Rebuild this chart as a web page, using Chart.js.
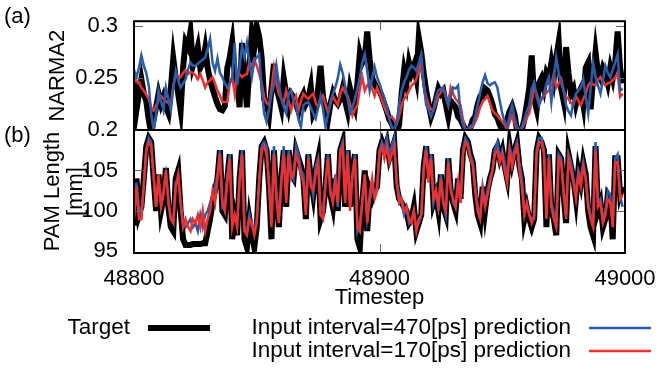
<!DOCTYPE html>
<html>
<head>
<meta charset="utf-8">
<script src="https://cdn.jsdelivr.net/npm/chart.js@4.4.1/dist/chart.umd.min.js"></script>
<style>
  body { margin: 0; background: #fff; }
  #wrap { position: relative; width: 663px; height: 369px; }
  #wrap canvas { position: absolute; left: 0; top: 0; }
</style>
</head>
<body>
<div id="wrap">
  <canvas id="narmaChart" width="663" height="369"></canvas>
  <canvas id="pamChart" width="663" height="369"></canvas>
</div>
<script>
const START = 48800;
const steps = Array.from({ length: 200 }, (_, i) => START + i);
const xTicks = [48800, 48900, 49000];
const narmaTicks = [0.2, 0.25, 0.3];
const pamTicks = [95, 100, 105];

// (a) NARMA2
const narmaTarget = [
  0.246, 0.219, 0.235, 0.249, 0.235, 0.228, 0.21, 0.197, 0.21, 0.222,
  0.235, 0.225, 0.232, 0.222, 0.216, 0.24, 0.269, 0.25, 0.235, 0.219,
  0.26, 0.285, 0.28, 0.295, 0.262, 0.27, 0.28, 0.26, 0.265, 0.279,
  0.26, 0.248, 0.24, 0.232, 0.225, 0.22, 0.219, 0.223, 0.26, 0.27,
  0.285, 0.255, 0.245, 0.222, 0.284, 0.25, 0.222, 0.26, 0.294, 0.28,
  0.3, 0.29, 0.27, 0.23, 0.225, 0.214, 0.24, 0.264, 0.24, 0.232,
  0.222, 0.25, 0.235, 0.222, 0.235, 0.232, 0.225, 0.218, 0.23, 0.235,
  0.225, 0.23, 0.242, 0.215, 0.22, 0.24, 0.262, 0.232, 0.22, 0.21,
  0.225, 0.235, 0.228, 0.225, 0.23, 0.24, 0.228, 0.218, 0.24, 0.23,
  0.222, 0.245, 0.274, 0.265, 0.27, 0.295, 0.268, 0.25, 0.245, 0.24,
  0.238, 0.232, 0.225, 0.218, 0.21, 0.206, 0.2, 0.197, 0.205, 0.235,
  0.257, 0.245, 0.265, 0.255, 0.262, 0.25, 0.289, 0.275, 0.255, 0.238,
  0.225, 0.213, 0.22, 0.23, 0.24, 0.235, 0.238, 0.225, 0.213, 0.228,
  0.225, 0.222, 0.213, 0.21, 0.205, 0.2, 0.2, 0.202, 0.21, 0.213,
  0.225, 0.232, 0.232, 0.24, 0.238, 0.232, 0.225, 0.215, 0.212, 0.205,
  0.2, 0.203, 0.21, 0.218, 0.223, 0.215, 0.2, 0.198, 0.2, 0.21,
  0.225, 0.24, 0.272, 0.23, 0.22, 0.245, 0.25, 0.24, 0.255, 0.25,
  0.265, 0.25, 0.27, 0.285, 0.24, 0.228, 0.28, 0.255, 0.235, 0.24,
  0.225, 0.235, 0.24, 0.225, 0.26, 0.265, 0.22, 0.25, 0.275, 0.255,
  0.25, 0.26, 0.255, 0.245, 0.26, 0.25, 0.265, 0.295, 0.26, 0.245
];
const narma470 = [
  0.258, 0.251, 0.26, 0.272, 0.262, 0.255, 0.243, 0.216, 0.2, 0.215,
  0.238, 0.228, 0.219, 0.241, 0.23, 0.219, 0.24, 0.257, 0.248, 0.241,
  0.245, 0.249, 0.258, 0.265, 0.262, 0.262, 0.264, 0.266, 0.268, 0.27,
  0.278, 0.288, 0.265, 0.257, 0.269, 0.255, 0.251, 0.245, 0.241, 0.245,
  0.251, 0.284, 0.243, 0.26, 0.281, 0.27, 0.284, 0.265, 0.251, 0.267,
  0.27, 0.273, 0.241, 0.216, 0.208, 0.22, 0.235, 0.243, 0.262, 0.245,
  0.23, 0.222, 0.216, 0.235, 0.238, 0.228, 0.224, 0.21, 0.203, 0.224,
  0.226, 0.227, 0.222, 0.216, 0.211, 0.222, 0.233, 0.22, 0.203, 0.215,
  0.227, 0.235, 0.241, 0.25, 0.263, 0.255, 0.243, 0.23, 0.216, 0.222,
  0.23, 0.24, 0.251, 0.265, 0.273, 0.257, 0.238, 0.25, 0.261, 0.251,
  0.245, 0.237, 0.23, 0.222, 0.21, 0.203, 0.2, 0.208, 0.224, 0.238,
  0.246, 0.251, 0.258, 0.262, 0.26, 0.257, 0.265, 0.273, 0.246, 0.224,
  0.22, 0.213, 0.22, 0.232, 0.238, 0.24, 0.241, 0.232, 0.224, 0.232,
  0.241, 0.24, 0.243, 0.216, 0.205, 0.2, 0.2, 0.204, 0.205, 0.214,
  0.224, 0.236, 0.246, 0.253, 0.245, 0.243, 0.245, 0.246, 0.241, 0.228,
  0.216, 0.208, 0.203, 0.214, 0.224, 0.212, 0.203, 0.2, 0.203, 0.21,
  0.218, 0.224, 0.24, 0.246, 0.232, 0.224, 0.23, 0.235, 0.245, 0.251,
  0.227, 0.25, 0.27, 0.255, 0.245, 0.238, 0.224, 0.218, 0.214, 0.228,
  0.235, 0.238, 0.241, 0.249, 0.232, 0.216, 0.24, 0.265, 0.251, 0.243,
  0.235, 0.248, 0.262, 0.255, 0.251, 0.258, 0.265, 0.273, 0.238, 0.24
];
const narma170 = [
  0.249, 0.247, 0.246, 0.241, 0.238, 0.234, 0.23, 0.222, 0.219, 0.224,
  0.228, 0.233, 0.23, 0.228, 0.226, 0.224, 0.243, 0.253, 0.252, 0.251,
  0.255, 0.258, 0.254, 0.256, 0.255, 0.253, 0.249, 0.254, 0.248, 0.241,
  0.246, 0.248, 0.251, 0.245, 0.238, 0.233, 0.227, 0.227, 0.227, 0.245,
  0.251, 0.235, 0.257, 0.254, 0.251, 0.253, 0.254, 0.265, 0.262, 0.268,
  0.262, 0.254, 0.245, 0.232, 0.226, 0.224, 0.24, 0.26, 0.245, 0.235,
  0.23, 0.227, 0.238, 0.228, 0.219, 0.228, 0.233, 0.219, 0.228, 0.235,
  0.232, 0.23, 0.233, 0.235, 0.226, 0.222, 0.228, 0.233, 0.225, 0.216,
  0.225, 0.233, 0.228, 0.224, 0.235, 0.241, 0.236, 0.233, 0.225, 0.214,
  0.22, 0.224, 0.24, 0.251, 0.238, 0.243, 0.246, 0.24, 0.233, 0.241,
  0.235, 0.229, 0.222, 0.216, 0.212, 0.213, 0.21, 0.206, 0.213, 0.224,
  0.23, 0.233, 0.238, 0.243, 0.245, 0.249, 0.258, 0.265, 0.243, 0.232,
  0.224, 0.22, 0.219, 0.226, 0.233, 0.236, 0.241, 0.232, 0.224, 0.241,
  0.235, 0.23, 0.227, 0.224, 0.21, 0.2, 0.201, 0.202, 0.203, 0.208,
  0.214, 0.222, 0.227, 0.23, 0.233, 0.226, 0.219, 0.216, 0.214, 0.211,
  0.208, 0.205, 0.2, 0.208, 0.214, 0.207, 0.2, 0.2, 0.201, 0.206,
  0.212, 0.216, 0.228, 0.241, 0.235, 0.227, 0.23, 0.233, 0.236, 0.238,
  0.244, 0.254, 0.241, 0.245, 0.249, 0.238, 0.232, 0.23, 0.226, 0.224,
  0.233, 0.228, 0.224, 0.23, 0.235, 0.243, 0.246, 0.244, 0.243, 0.248,
  0.251, 0.246, 0.243, 0.245, 0.246, 0.248, 0.251, 0.255, 0.232, 0.235
];

// (b) PAM length [mm]
const pamTarget = [
  98.2, 104, 99.5, 100.5, 104, 108, 109, 108.5, 104, 100,
  104.5, 100, 101.5, 105.3, 100.5, 98, 97.5, 104, 105, 100,
  96.5, 95.8, 95.8, 95.8, 95.9, 95.9, 95.9, 95.9, 96, 96,
  97.5, 99, 101, 102.5, 104, 107.5, 100, 99.5, 104, 107,
  96.5, 99, 97, 104, 107.5, 96.5, 95.5, 99, 97, 95.5,
  98, 104, 108, 108.5, 107.5, 103, 96.5, 107.5, 102, 98,
  104, 107.5, 100.5, 107.5, 104.5, 104, 107.5, 106.5, 105.5, 104,
  99, 107, 104, 102, 105, 106.5, 99, 100, 103, 107,
  102, 100.5, 104, 100, 107.5, 108.5, 100.5, 107.5, 100.5, 105,
  107, 96.5, 95.5, 101, 105, 97.5, 102.5, 101.5, 102.5, 103,
  107.5, 108.5, 107.5, 108.5, 106.5, 107.5, 108.5, 103, 101.5, 101,
  100.5, 100, 98.5, 99, 100.5, 97.5, 98.5, 99.5, 105.5, 108,
  104, 107, 101, 102, 100, 104.5, 100.5, 99.5, 106.5, 102.5,
  101, 100, 104, 101.5, 107.5, 109, 108.5, 107, 106, 102,
  99.5, 98.5, 103, 100, 102.5, 104, 105, 107.5, 108, 106.5,
  107.5, 105.5, 104, 108, 106, 107.5, 108.5, 105.5, 104, 99,
  100.5, 99, 98, 99, 107.5, 109, 108.5, 107.5, 98, 107,
  100, 99, 97, 107, 106.5, 102, 98.5, 107, 105.5, 104,
  101.5, 105, 103.5, 106, 104.5, 100, 98, 97, 108, 100,
  101, 98, 99, 102, 101.5, 96.5, 106.5, 106.5, 102, 103
];
const pam470 = [
  100, 103.5, 100.5, 99.5, 103, 107.5, 109, 108.5, 104, 100.5,
  104, 101, 102.5, 104.5, 101.5, 99, 98.5, 103.5, 104, 101,
  98.5, 98, 98.5, 99, 98, 98.5, 97.5, 99.5, 98, 99.5,
  100, 101, 102, 103, 104.5, 107.5, 100.5, 101, 104.5, 107,
  98.5, 99.5, 98.5, 104, 107.5, 98, 97.5, 99.5, 98, 97.5,
  99, 104, 108, 108.5, 108, 103.5, 98.5, 108, 102.5, 99,
  104, 108, 101.5, 107.5, 105, 104, 108, 107, 105, 104.5,
  100, 107, 104, 102, 105.5, 106.5, 100, 100.5, 103, 107,
  102, 101.5, 104.5, 100.5, 107.5, 108.5, 101.5, 107.5, 101, 104.5,
  107, 97.5, 98.5, 101, 104.5, 99, 101, 103, 102, 103,
  107.5, 108.5, 107.5, 109, 107, 108, 109, 103.5, 102, 101,
  99.5, 100.5, 98.5, 99, 100, 98, 98.5, 99.5, 105.5, 108,
  104, 107, 101, 102.5, 100, 104.5, 101, 99.5, 106.5, 103,
  101, 100.5, 104, 101, 107.5, 109, 108.5, 107, 106, 103,
  100.5, 99.5, 103, 101, 102.5, 104, 105, 107.5, 108.5, 106.5,
  107.5, 106, 104, 108, 106.5, 107.5, 108.5, 106, 104, 100,
  100.5, 99.5, 99, 99, 107.5, 109, 109, 107.5, 99.5, 107,
  101, 100, 98, 107, 106.5, 102, 99.5, 107, 106, 104,
  102, 105, 104, 106, 104, 101, 99.5, 98.5, 108.5, 101,
  101.5, 99, 100, 102.5, 102, 98.5, 106.5, 107, 102, 100.5
];
const pam170 = [
  99, 103, 99, 99, 103.5, 107.5, 108.5, 108, 104.5, 100.5,
  104.5, 100.5, 102, 105, 101, 99, 98.5, 103, 104.5, 101,
  98, 99, 98, 97.5, 99, 98.5, 99.5, 98, 100, 97.5,
  99, 100, 102.5, 101, 104, 107, 101, 100, 103.5, 106.5,
  98, 99.5, 98, 103.5, 107, 97.5, 97, 99, 98.5, 97,
  98.5, 103.5, 107.5, 108, 107, 103, 98, 107, 101.5, 98.5,
  103.5, 107, 101, 107, 104, 104.5, 107, 106, 104.5, 103.5,
  99.5, 106.5, 103, 102.5, 104.5, 106, 99.5, 99, 103.5, 106.5,
  102.5, 101, 103.5, 101, 107, 108, 101, 107, 100, 104.5,
  106.5, 98, 97.5, 101.5, 104.5, 98.5, 102, 104, 101.5, 102.5,
  107, 108, 106.5, 108, 106, 107, 108, 103.5, 101, 101.5,
  100, 100.5, 99, 98.5, 100, 97.5, 99, 99.5, 105, 107.5,
  103.5, 106.5, 101.5, 102.5, 100.5, 104, 101, 100, 106, 102.5,
  101.5, 100.5, 103.5, 101, 107, 108.5, 108, 106.5, 105.5, 102.5,
  100, 99, 102.5, 100.5, 102, 103.5, 105, 107, 107.5, 106,
  107, 105, 103.5, 107.5, 105.5, 107, 108, 105, 103, 99.5,
  101, 99.5, 98.5, 99.5, 107, 108.5, 108.5, 107, 99, 106.5,
  100.5, 99, 98, 106.5, 106, 102.5, 99, 106.5, 105, 103.5,
  101.5, 104.5, 103, 105.5, 104, 100.5, 99, 98, 107.5, 100.5,
  101, 98.5, 99.5, 101.5, 101, 98, 106, 106, 101.5, 102
];

const FONT = "'Liberation Sans', Arial, sans-serif";
const BLACK = '#000000';
const BLUE = '#2b5ca8';
const RED = '#ee3030';

Chart.defaults.font.family = FONT;
Chart.defaults.font.size = 22;
Chart.defaults.color = '#000';

// gnuplot style box: frame, inward tick marks, panel tag
const panelFrame = {
  id: 'panelFrame',
  afterDatasetsDraw(chart, args, opts) {
    const { ctx, chartArea: a, scales: { x, y } } = chart;
    const len = 9;
    ctx.save();
    ctx.strokeStyle = '#666';
    ctx.lineWidth = 1;
    ctx.beginPath();
    xTicks.slice(1, -1).forEach(v => {
      const px = Math.round(x.getPixelForValue(v)) + 0.5;
      ctx.moveTo(px, a.top); ctx.lineTo(px, a.top + len);
      ctx.moveTo(px, a.bottom); ctx.lineTo(px, a.bottom - len);
    });
    y.ticks.forEach(t => {
      const py = Math.round(y.getPixelForValue(t.value)) + 0.5;
      if (py < a.top + 3 || py > a.bottom - 3) return;
      ctx.moveTo(a.left, py); ctx.lineTo(a.left + len, py);
      ctx.moveTo(a.right, py); ctx.lineTo(a.right - len, py);
    });
    ctx.stroke();
    ctx.strokeStyle = '#000';
    ctx.lineWidth = 2;
    ctx.strokeRect(a.left, a.top, a.width, a.height);
    ctx.fillStyle = '#000';
    ctx.font = '22px ' + FONT;
    ctx.textAlign = 'left';
    ctx.textBaseline = 'middle';
    ctx.fillText(opts.tag, 4, opts.tagY);
    ctx.restore();
  }
};

// two-column legend under the lower panel
const bottomLegend = {
  id: 'bottomLegend',
  afterDraw(chart) {
    const { ctx } = chart;
    const ds = chart.data.datasets;
    const spots = [
      { i: 2, textX: 130, lineX: 148, y: 328 },
      { i: 1, textX: 571, lineX: 589, y: 328 },
      { i: 0, textX: 571, lineX: 589, y: 351 }
    ];
    ctx.save();
    ctx.font = '22.5px ' + FONT;
    ctx.textAlign = 'right';
    ctx.textBaseline = 'middle';
    spots.forEach(s => {
      const d = ds[s.i];
      ctx.fillStyle = '#000';
      ctx.fillText(d.label, s.textX, s.y);
      ctx.strokeStyle = d.borderColor;
      ctx.lineWidth = d.borderWidth;
      ctx.beginPath();
      ctx.moveTo(s.lineX, s.y);
      ctx.lineTo(s.lineX + 62, s.y);
      ctx.stroke();
    });
    ctx.restore();
  }
};

function series(label, data, color, width, order) {
  return {
    label, data, order,
    borderColor: color,
    borderWidth: width,
    pointRadius: 0,
    tension: 0,
    clip: 0,
    borderJoinStyle: 'miter'
  };
}

new Chart(document.getElementById('narmaChart'), {
  type: 'line',
  data: {
    labels: steps,
    datasets: [
      series('Input interval=170[ps] prediction', narma170, RED, 2.5, 1),
      series('Input interval=470[ps] prediction', narma470, BLUE, 2.5, 0),
      series('Target', narmaTarget, BLACK, 6, 2)
    ]
  },
  options: {
    responsive: false,
    animation: false,
    layout: { padding: { top: 7, right: 38, bottom: 239, left: 0 } },
    plugins: {
      legend: { display: false },
      tooltip: { enabled: false },
      panelFrame: { tag: '(a)', tagY: 17 }
    },
    scales: {
      x: { type: 'linear', min: START, max: 49000, display: false },
      y: {
        min: 0.2,
        max: 0.305,
        afterBuildTicks: s => { s.ticks = narmaTicks.map(v => ({ value: v })); },
        afterFit: s => { s.width = 134; },
        grid: { display: false },
        border: { display: false },
        ticks: { padding: 8, callback: v => String(v) },
        title: { display: true, text: 'NARMA2', padding: { top: 45, bottom: 0 } }
      }
    }
  },
  plugins: [panelFrame]
});

new Chart(document.getElementById('pamChart'), {
  type: 'line',
  data: {
    labels: steps,
    datasets: [
      series('Input interval=170[ps] prediction', pam170, RED, 2.5, 0),
      series('Input interval=470[ps] prediction', pam470, BLUE, 2.5, 1),
      series('Target', pamTarget, BLACK, 6, 2)
    ]
  },
  options: {
    responsive: false,
    animation: false,
    layout: { padding: { top: 130, right: 38, bottom: 0, left: 0 } },
    plugins: {
      legend: { display: false },
      tooltip: { enabled: false },
      panelFrame: { tag: '(b)', tagY: 136 }
    },
    scales: {
      x: {
        type: 'linear',
        min: START,
        max: 49000,
        afterBuildTicks: s => { s.ticks = xTicks.map(v => ({ value: v })); },
        afterFit: s => { s.height = 116; },
        grid: { display: false },
        border: { display: false },
        ticks: { padding: 5, maxRotation: 0, autoSkip: false, callback: v => String(v) },
        title: { display: true, text: 'Timestep', padding: { top: 0, bottom: 58 } }
      },
      y: {
        min: 94.8,
        max: 110,
        afterBuildTicks: s => { s.ticks = pamTicks.map(v => ({ value: v })); },
        afterFit: s => { s.width = 134; },
        grid: { display: false },
        border: { display: false },
        ticks: { padding: 8, callback: v => String(v) },
        title: {
          display: true,
          text: ['PAM Length', '[mm]'],
          font: { size: 22, lineHeight: 1.05 },
          padding: { top: 41, bottom: 0 }
        }
      }
    }
  },
  plugins: [panelFrame, bottomLegend]
});
</script>
</body>
</html>
